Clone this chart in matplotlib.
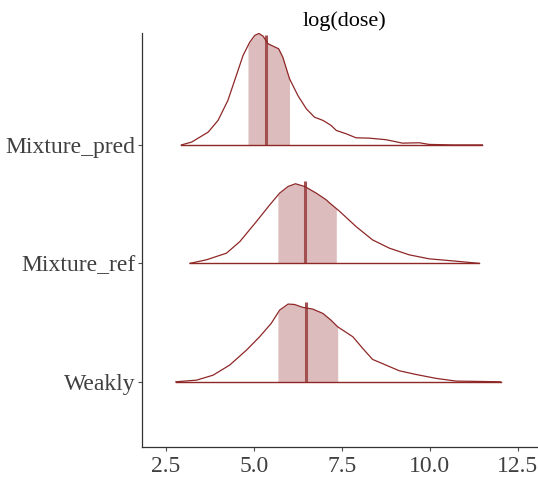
import numpy as np
import matplotlib.pyplot as plt

# parameter names, top to bottom
params = ['Mixture_pred', 'Mixture_ref', 'Weakly']

# density outlines (x, scaled height)
pred_x = [2.94, 3.23, 3.70, 3.98, 4.26, 4.50, 4.69, 4.88, 5.02, 5.14, 5.26, 5.40,
          5.54, 5.70, 5.82, 6.01, 6.25, 6.49, 6.72, 6.96, 7.19, 7.34, 7.62, 7.90,
          8.28, 8.75, 9.22, 9.70, 9.98, 10.64, 11.49]
pred_h = [0.0, 0.024, 0.108, 0.207, 0.376, 0.587, 0.755, 0.867, 0.924, 0.941, 0.918, 0.854,
          0.834, 0.812, 0.741, 0.559, 0.416, 0.304, 0.234, 0.207, 0.165, 0.122, 0.094, 0.060,
          0.057, 0.044, 0.015, 0.018, 0.004, 0.0, 0.0]

ref_x = [3.18, 3.65, 4.22, 4.60, 5.07, 5.45, 5.73, 5.97, 6.18, 6.44, 6.77, 7.05,
         7.15, 7.43, 7.90, 8.37, 8.85, 9.41, 9.98, 10.64, 11.40]
ref_h = [0.0, 0.030, 0.086, 0.184, 0.353, 0.494, 0.593, 0.649, 0.672, 0.649, 0.593, 0.537,
         0.51, 0.44, 0.311, 0.198, 0.128, 0.072, 0.038, 0.021, 0.0]

weak_x = [2.78, 3.37, 3.84, 4.31, 4.79, 5.16, 5.49, 5.73, 5.97, 6.15, 6.39, 6.67,
          6.96, 7.19, 7.38, 7.81, 8.09, 8.37, 8.75, 9.13, 9.60, 10.17, 10.74, 12.01]
weak_h = [0.0, 0.014, 0.056, 0.141, 0.268, 0.380, 0.493, 0.605, 0.656, 0.653, 0.628, 0.614,
          0.577, 0.520, 0.464, 0.380, 0.282, 0.189, 0.141, 0.093, 0.062, 0.029, 0.006, 0.0]

# 50% intervals and medians
lo = [4.83, 5.68, 5.68]
hi = [6.01, 7.34, 7.38]
med = [5.35, 6.46, 6.47]

dark = '#8F2727'
mid_hl = '#A25050'
light = '#DCBCBC'

plt.rcParams['font.family'] = 'Liberation Serif'

fig = plt.figure(figsize=(5.38, 4.78), dpi=100)
ax = fig.add_axes([0.264, 0.065, 0.734, 0.866])

curves = [(pred_x, pred_h), (ref_x, ref_h), (weak_x, weak_h)]
ypos = [3, 2, 1]
for (x, h), y0, a, b, m in zip(curves, ypos, lo, hi, med):
    x = np.array(x)
    h = np.array(h)
    # shaded central interval
    xs = np.concatenate([[a], x[(x > a) & (x < b)], [b]])
    hs = np.interp(xs, x, h)
    ax.fill_between(xs, y0, y0 + hs, color=light, lw=0, zorder=1)
    # median line
    ax.plot([m, m], [y0, y0 + np.interp(m, x, h) + 0.05], color=mid_hl, lw=2.2,
            solid_capstyle='butt', zorder=2)
    # outline and baseline
    ax.plot(x, y0 + h, color=dark, lw=0.9, zorder=3)
    ax.plot([x[0], x[-1]], [y0, y0], color=dark, lw=1.0, zorder=3)

ax.set_xlim(1.82, 13.04)
ax.set_ylim(0.45, 3.945)
ax.set_xticks([2.5, 5.0, 7.5, 10.0, 12.5])
ax.set_xticklabels(['2.5', '5.0', '7.5', '10.0', '12.5'])
ax.set_yticks(ypos)
ax.set_yticklabels(params)
ax.tick_params(labelsize=17, colors='#4D4D4D', length=3, width=0.8)
ax.tick_params(axis='y', pad=1.5)
ax.tick_params(axis='both', labelcolor='#404040')
for s in ['top', 'right']:
    ax.spines[s].set_visible(False)
for s in ['left', 'bottom']:
    ax.spines[s].set_color('#333333')
    ax.spines[s].set_linewidth(0.9)
ax.set_title('log(dose)', fontsize=16, pad=5, x=0.513)

fig.savefig('out.png', dpi=100)
